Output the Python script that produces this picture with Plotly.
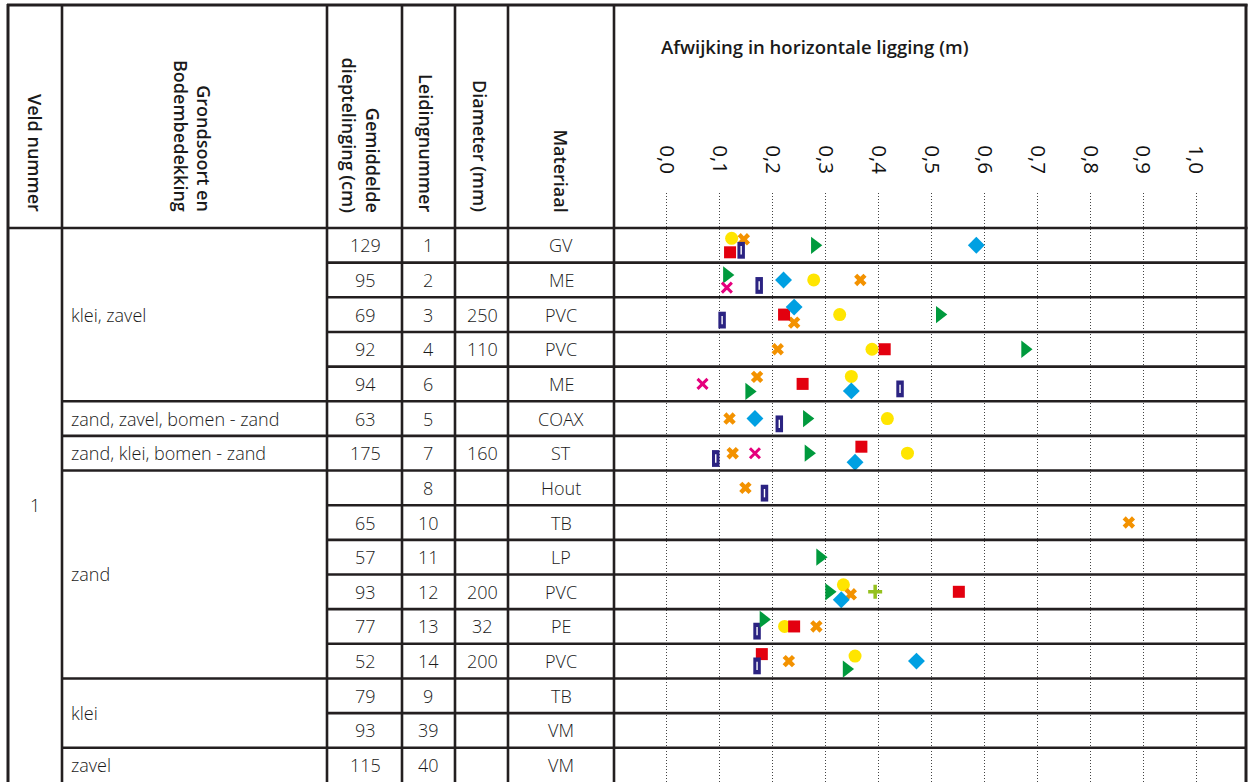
import plotly.graph_objects as go

# ---------------------------------------------------------------- table data
leiding = ["1", "2", "3", "4", "6", "5", "7", "8", "10", "11", "12", "13", "14", "9", "39", "40"]
diepte = ["129", "95", "69", "92", "94", "63", "175", "", "65", "57", "93", "77", "52", "79", "93", "115"]
diameter = ["", "", "250", "110", "", "", "160", "", "", "", "200", "32", "200", "", "", ""]
materiaal = ["GV", "ME", "PVC", "PVC", "ME", "COAX", "ST", "Hout", "TB", "LP", "PVC", "PE", "PVC", "TB", "VM", "VM"]

grond_labels = ["klei, zavel", "zand, zavel, bomen - zand", "zand, klei, bomen - zand", "zand", "klei", "zavel"]
grond_first = ["1", "5", "7", "8", "9", "40"]
grond_last = ["6", "5", "7", "14", "39", "40"]
veld = "1"

# ------------------------------------------ horizontal deviation (m) per series
geel_leiding = ["1", "2", "3", "4", "6", "5", "7", "12", "13", "14"]
geel_afw = [0.123, 0.278, 0.327, 0.388, 0.349, 0.417, 0.455, 0.334, 0.223, 0.356]

oranje_leiding = ["1", "2", "3", "4", "6", "5", "7", "8", "10", "12", "13", "14"]
oranje_afw = [0.146, 0.366, 0.241, 0.210, 0.171, 0.119, 0.125, 0.149, 0.873, 0.348, 0.283, 0.231]

rood_leiding = ["1", "3", "4", "6", "7", "12", "13", "14"]
rood_afw = [0.120, 0.222, 0.412, 0.257, 0.368, 0.552, 0.241, 0.180]

blauw_leiding = ["1", "2", "3", "6", "5", "7", "8", "13", "14"]
blauw_afw = [0.141, 0.175, 0.105, 0.441, 0.213, 0.093, 0.185, 0.171, 0.171]

groen_leiding = ["1", "2", "3", "4", "6", "5", "7", "11", "12", "13", "14"]
groen_afw = [0.280, 0.114, 0.516, 0.677, 0.156, 0.265, 0.268, 0.290, 0.307, 0.183, 0.340]

cyaan_leiding = ["1", "2", "3", "6", "5", "7", "12", "14"]
cyaan_afw = [0.585, 0.221, 0.241, 0.349, 0.167, 0.356, 0.330, 0.472]

magenta_leiding = ["2", "6", "7"]
magenta_afw = [0.114, 0.068, 0.167]

lime_leiding = ["12"]
lime_afw = [0.394]

ticks = [0.0, 0.1, 0.2, 0.3, 0.4, 0.5, 0.6, 0.7, 0.8, 0.9, 1.0]

# ---------------------------------- vertical spread inside a row (pixels)
geel_dy = [-7, 0, 0, 0, -7.5, 0, 0, -7, 0, -5]
oranje_dy = [-6, 0, 8, 0, -7, 0, 0, 0, 0, 2.5, 0, 0]
rood_dy = [7, 0, 0, 0, -6.5, 0, 0, -7]
blauw_dy = [5, 5.5, 5.5, 5, 5.3, 5.3, 5.3, 4.7, 4.8]
groen_dy = [0, -5, 0, 0, 7.5, 0, 0, 0, 0, -7, 8]
cyaan_dy = [0, 0, -7.5, 7, 0, 9, 8, 0]
magenta_dy = [7.7, 0, 0]
lime_dy = [0]

# ---------------------------------------------------------------- geometry
W, H = 1250, 782
ROW_H = 34.65
ROW0 = 245.3          # pixel centre of first row
PLOT_TOP = 193        # where the dotted grid starts
X0, XSCALE = 666.5, 529.6   # pixel of 0,0 m and pixels per metre

LINE = "#231f20"
TXT = "#1a1a1a"
FONT = "Open Sans"

row_of = {l: i for i, l in enumerate(leiding)}


def px(x):
    return x / W


def py(y):
    return 1 - y / H


def rows(lst, dy):
    return [row_of[l] + d / ROW_H for l, d in zip(lst, dy)]


fig = go.Figure()


def add_series(name, xs, ys, symbol, size, color, line_w=0, line_c=None):
    fig.add_trace(go.Scatter(
        x=xs, y=ys, mode="markers", name=name, showlegend=False, cliponaxis=False,
        marker=dict(symbol=symbol, size=size, color=color,
                    line=dict(width=line_w, color=line_c or color)),
        hoverinfo="x+name",
    ))


add_series("geel", geel_afw, rows(geel_leiding, geel_dy), "circle", 13, "#ffe500")
add_series("oranje", oranje_afw, rows(oranje_leiding, oranje_dy), "x", 11, "#f39200")
add_series("rood", rood_afw, rows(rood_leiding, rood_dy), "square", 12, "#e3000f")
# navy bar with a white slit
add_series("blauw", blauw_afw, rows(blauw_leiding, blauw_dy), "line-ns", 12, "#2b2382", 7.5)
add_series("blauw-kern", blauw_afw, rows(blauw_leiding, blauw_dy), "line-ns", 6, "#ffffff", 1.4)
add_series("groen", groen_afw, rows(groen_leiding, groen_dy), "triangle-right", 15, "#009a3d")
add_series("cyaan", cyaan_afw, rows(cyaan_leiding, cyaan_dy), "diamond", 13, "#00a0e2")
add_series("magenta", magenta_afw, rows(magenta_leiding, magenta_dy), "x-thin", 10, "#e5007d", 3)
add_series("lime", lime_afw, rows(lime_leiding, lime_dy), "cross-thin", 10, "#95c11f", 3.5)

shapes = []


def hline(y_row, x_from, x_to, width=2.6):
    shapes.append(dict(type="line", xref="paper", yref="y", x0=px(x_from), x1=px(x_to),
                       y0=y_row, y1=y_row, line=dict(color=LINE, width=width), layer="above"))


def vline_px(x, y_from, y_to, width=2.6):
    shapes.append(dict(type="line", xref="paper", yref="paper", x0=px(x), x1=px(x),
                       y0=py(y_from), y1=py(y_to), line=dict(color=LINE, width=width), layer="above"))


# column borders
COLS = [8, 62, 327, 402, 455, 508, 614, 1246]
for i, c in enumerate(COLS):
    vline_px(c, 4, H + 2, 3 if i in (0, len(COLS) - 1) else 2.6)
# top border
shapes.append(dict(type="line", xref="paper", yref="paper", x0=px(7), x1=px(1247.5),
                   y0=py(5), y1=py(5), line=dict(color=LINE, width=3), layer="above"))
# header bottom
hline(-0.5, 7, 1247.5)

# row borders
group_ends = {row_of[l] for l in grond_last}
for i in range(len(leiding) - 1):
    start = 62 if i in group_ends else 327
    hline(i + 0.5, start, 1246)

annotations = []


def txt(text, x, y, yref="y", size=18, anchor="center", color=TXT, **kw):
    annotations.append(dict(text=text, x=px(x), y=y, xref="paper", yref=yref, showarrow=False,
                            xanchor=anchor, yanchor="middle",
                            font=dict(family=FONT, size=size, color=color, weight=300), **kw))


for i in range(len(leiding)):
    txt(diepte[i], 365, i)
    txt(leiding[i], 428, i)
    txt(diameter[i], 482, i)
    txt(materiaal[i], 561, i)

for lab, a, b in zip(grond_labels, grond_first, grond_last):
    txt(lab, 69, (row_of[a] + row_of[b]) / 2, anchor="left")

txt(veld, 35, 7.5)

# rotated column headers, bottom aligned
HEAD_BOTTOM = 214
headers = [
    ("Veld nummer", 35),
    ("Grondsoort en<br>Bodembedekking", 192),
    ("Gemiddelde<br>dieptelinging (cm)", 361),
    ("Leidingnummer", 426),
    ("Diameter (mm)", 480),
    ("Materiaal", 560),
]
for text, x in headers:
    annotations.append(dict(text=text, x=px(x), y=py(HEAD_BOTTOM), xref="paper", yref="paper",
                            showarrow=False, xanchor="center", yanchor="bottom", textangle=90,
                            align="right",
                            font=dict(family=FONT, size=18, color="#1a1a1a", weight=600)))

annotations.append(dict(text="Afwijking in horizontale ligging (m)", x=px(659), y=py(47),
                        xref="paper", yref="paper", showarrow=False, xanchor="left",
                        yanchor="middle",
                        font=dict(family=FONT, size=18.5, color="#1a1a1a", weight=600)))

fig.update_layout(
    width=W, height=H, margin=dict(l=0, r=0, t=0, b=0),
    paper_bgcolor="white", plot_bgcolor="white",
    separators=",.",
    shapes=shapes, annotations=annotations,
    xaxis=dict(
        domain=[0, 1], range=[(0 - X0) / XSCALE, (W - X0) / XSCALE],
        side="top", tickmode="array", tickvals=ticks, tickformat=".1f",
        tickangle=90, ticks="", ticklabelstandoff=15,
        tickfont=dict(family=FONT, size=20.5, color="#111111", weight=400),
        showgrid=True, gridcolor="#444444", gridwidth=1, griddash="1px,2px",
        zeroline=False, showline=False, fixedrange=True,
    ),
    yaxis=dict(
        domain=[0, 1 - PLOT_TOP / H],
        range=[(H - ROW0) / ROW_H, (PLOT_TOP - ROW0) / ROW_H],
        showgrid=False, zeroline=False, showticklabels=False, showline=False, fixedrange=True,
    ),
)

fig.write_html("out.html")
